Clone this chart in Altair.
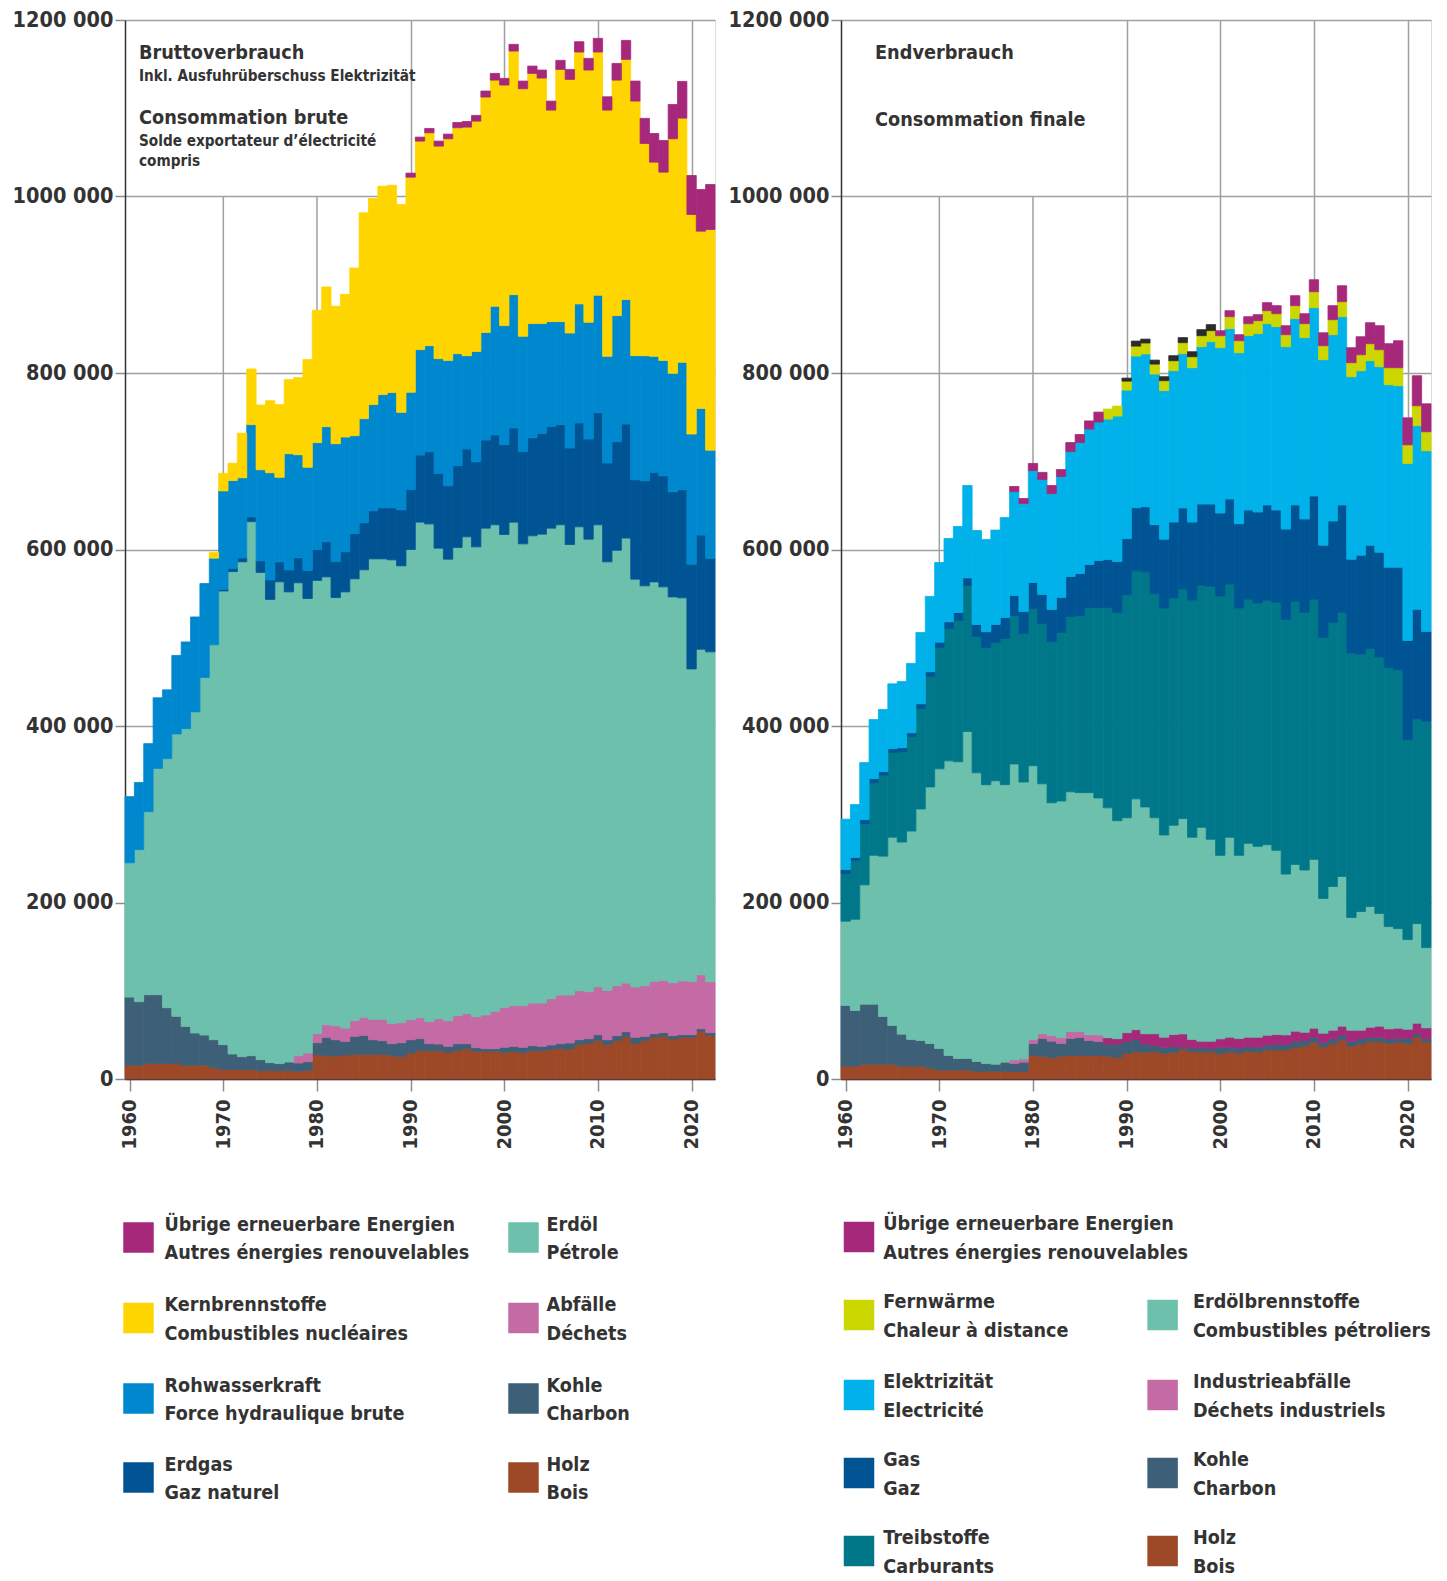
import altair as alt
import pandas as pd

YEARS = list(range(1960, 2023))

# ---------------- Bruttoverbrauch (values in 1000 TJ) ----------------
L_HOLZ = [15.5, 15.5, 17.4, 17.4, 17.4, 17.4, 15.5, 15.5, 15.5, 12.8,
          10.6, 10.6, 10.6, 10.6, 9.4, 9.4, 9.4, 9.4, 8.7, 9.8,
          27.5, 26.8, 26.0, 27.2, 28.0, 28.0, 28.0, 28.0, 26.8, 25.3,
          29.4, 32.0, 32.0, 32.0, 30.2, 32.5, 34.3, 31.3, 31.3, 31.3,
          30.2, 31.3, 29.8, 32.0, 32.0, 33.6, 34.3, 34.0, 38.9, 40.8,
          43.8, 38.9, 43.4, 47.9, 40.8, 43.4, 47.6, 48.3, 45.3, 47.2,
          47.2, 54.0, 49.4]
L_KOHLE = [77.3, 72.1, 78.1, 78.1, 63.4, 53.6, 44.1, 36.6, 34.3, 31.7,
           28.3, 17.7, 14.7, 15.8, 12.5, 9.1, 8.0, 9.8, 9.4, 9.8,
           13.6, 20.4, 18.5, 15.4, 20.3, 21.4, 16.5, 15.4, 13.2, 15.8,
           15.1, 13.7, 8.0, 7.6, 6.8, 7.5, 5.7, 4.2, 3.0, 3.0,
           5.7, 5.7, 6.1, 5.7, 5.0, 4.9, 5.7, 6.8, 5.6, 4.9,
           6.4, 5.6, 5.7, 5.7, 6.4, 4.9, 3.7, 4.2, 3.8, 3.0,
           3.0, 3.0, 3.1]
L_ABFAELLE = [0] * 18 + [8.3, 9.8,
              10.2, 14.3, 15.9, 15.1, 17.7, 20.4, 23.1, 24.2, 23.0, 22.7,
              22.7, 23.7, 24.9, 28.7, 29.0, 31.7, 34.0, 35.1, 38.2, 42.3,
              45.2, 46.0, 47.1, 48.3, 49.0, 52.5, 55.1, 54.3, 55.5, 53.2,
              54.3, 55.9, 56.6, 55.1, 57.0, 57.4, 59.3, 59.2, 59.9, 61.1,
              60.4, 61.1, 57.7]
L_ERDOEL = [152.2, 172.4, 207.5, 256.5, 282.2, 320.0, 337.4, 363.9, 405.2, 447.5,
            514.1, 546.7, 560.7, 605.1, 552.1, 524.9, 546.0, 532.8, 535.9, 515.1,
            513.7, 507.5, 485.2, 494.3, 500.8, 507.2, 521.8, 521.8, 525.3, 517.7,
            532.8, 561.6, 564.1, 533.2, 523.0, 530.6, 540.4, 532.4, 551.7, 551.4,
            535.9, 548.0, 523.4, 529.5, 531.4, 533.2, 532.9, 510.6, 525.7, 512.8,
            523.5, 485.6, 493.5, 504.2, 462.2, 453.1, 452.7, 446.0, 437.3, 433.9,
            354.1, 368.9, 373.8]
L_ERDGAS = [0] * 10 + [
            1.8, 3.7, 4.5, 5.5, 13.0, 22.1, 22.5, 24.9, 28.3, 31.8,
            34.8, 39.8, 40.9, 45.4, 51.1, 53.3, 54.5, 57.9, 59.0, 63.5,
            68.0, 76.0, 81.8, 84.7, 83.2, 92.6, 99.4, 96.4, 99.8, 101.7,
            101.7, 106.6, 104.7, 111.1, 114.1, 115.3, 113.4, 109.2, 117.6, 113.4,
            127.0, 111.9, 122.9, 129.2, 112.6, 119.1, 124.0, 125.8, 119.1, 122.5,
            118.7, 129.3, 106.2]
L_WASSER = [75.0, 76.0, 77.0, 80.0, 78.0, 89.0, 98.3, 107.6, 106.4, 98.2,
            111.6, 99.5, 90.8, 104.5, 103.4, 121.5, 95.9, 131.6, 116.8, 116.8,
            121.3, 130.4, 133.4, 130.0, 111.1, 118.0, 120.3, 128.2, 130.5, 110.4,
            110.2, 119.5, 120.2, 130.1, 142.1, 127.0, 105.8, 125.1, 122.0, 145.9,
            135.0, 151.2, 130.5, 129.4, 124.5, 118.7, 116.8, 130.4, 135.0, 132.4,
            133.1, 121.0, 142.9, 141.1, 140.6, 141.7, 131.6, 130.8, 134.2, 144.4,
            147.4, 143.6, 122.4]
L_KERN = [0] * 9 + [6.6,
          20.0, 19.6, 50.5, 63.0, 73.3, 81.6, 82.4, 84.0, 87.4, 122.1,
          150.0, 158.3, 155.7, 161.7, 190.0, 233.2, 233.5, 236.2, 235.0, 235.5,
          243.7, 236.3, 241.2, 240.8, 251.1, 256.0, 259.0, 260.9, 266.7, 256.3,
          272.6, 276.0, 280.5, 283.5, 278.2, 239.7, 285.8, 287.4, 285.4, 285.8,
          275.6, 279.0, 266.9, 272.2, 288.5, 240.5, 220.0, 213.3, 265.8, 276.7,
          248.8, 200.8, 250.0]
L_UEBRIGE = [0] * 30 + [
             4.6, 4.5, 4.9, 5.7, 5.3, 6.0, 6.4, 6.5, 6.8, 7.6,
             7.5, 7.6, 8.7, 8.3, 9.1, 10.2, 10.3, 11.3, 11.7, 13.2,
             15.5, 15.1, 18.9, 21.5, 22.7, 28.4, 32.5, 35.9, 38.9, 41.6,
             44.2, 47.2, 51.0]

# ---------------- Endverbrauch (values in 1000 TJ) ----------------
R_HOLZ = [14.5, 14.5, 16.8, 16.8, 16.8, 16.8, 14.5, 14.5, 14.5, 12.3,
          10.1, 10.1, 10.1, 10.1, 8.6, 8.6, 8.6, 8.6, 8.6, 8.6,
          26.6, 25.9, 24.4, 25.9, 26.6, 26.6, 26.6, 26.6, 25.9, 24.4,
          28.9, 31.1, 30.4, 31.1, 29.2, 30.3, 33.7, 31.1, 30.7, 30.7,
          28.8, 30.7, 29.5, 31.4, 30.7, 33.0, 33.0, 33.0, 35.6, 37.5,
          41.7, 36.4, 39.8, 44.3, 37.5, 39.8, 42.4, 42.4, 40.5, 41.7,
          40.5, 47.4, 42.0]
R_KOHLE = [68.8, 63.1, 68.0, 68.0, 54.0, 43.8, 36.3, 30.3, 29.1, 28.0,
           24.5, 16.5, 13.1, 13.1, 11.2, 8.9, 8.2, 10.5, 8.9, 10.5,
           13.7, 20.1, 18.5, 14.4, 19.4, 20.5, 17.0, 15.9, 13.6, 15.1,
           13.6, 13.7, 9.1, 6.9, 6.8, 6.4, 2.3, 4.1, 4.5, 3.8,
           7.2, 5.3, 5.7, 5.3, 5.3, 5.3, 6.0, 6.0, 7.2, 6.1,
           5.7, 5.3, 5.7, 5.3, 5.3, 5.7, 5.0, 5.0, 5.0, 4.5,
           5.7, 3.7, 3.5]
R_INDUSTRIE_A = [0] * 18 + [4.1, 3.6,
                 4.6, 5.3, 6.1, 6.5, 7.9, 6.8, 6.5, 7.6] + [0] * 35
R_INDUSTRIE_B = [0] * 28 + [7.3, 6.2,
                 10.0, 11.1, 11.8, 13.3, 11.4, 13.7, 15.1, 9.5, 7.6, 8.3,
                 9.5, 11.4, 10.6, 10.7, 11.4, 11.3, 11.4, 11.0, 11.4, 9.4,
                 10.2, 10.2, 9.8, 10.3, 12.5, 9.8, 11.3, 12.5, 11.3, 11.4,
                 10.2, 12.2, 12.5]
R_ERDOELBR = [95.5, 103.4, 135.2, 168.7, 181.7, 213.4, 217.7, 236.2, 262.4, 290.7,
              316.9, 333.9, 336.3, 370.6, 327.2, 316.0, 321.2, 314.4, 335.4, 313.8,
              310.1, 283.2, 264.0, 268.2, 271.6, 270.6, 274.4, 268.4, 260.5, 247.0,
              243.5, 261.6, 257.0, 244.7, 229.1, 237.1, 244.0, 229.2, 242.4, 228.8,
              207.9, 226.5, 207.6, 219.6, 216.2, 215.9, 208.7, 182.2, 189.0, 183.8,
              191.3, 152.7, 162.9, 169.7, 127.7, 134.5, 136.8, 127.6, 115.9, 112.9,
              101.6, 112.8, 90.9]
R_TREIB = [54.0, 66.6, 69.5, 82.4, 91.7, 95.9, 102.5, 107.0, 113.8, 125.2,
           137.5, 150.0, 160.1, 165.5, 154.5, 155.5, 156.6, 165.7, 168.2, 168.3,
           178.2, 181.7, 182.8, 191.0, 198.6, 200.7, 209.8, 215.8, 227.0, 236.0,
           252.7, 258.5, 266.4, 253.8, 257.2, 257.6, 260.2, 268.9, 274.3, 286.7,
           293.9, 286.7, 280.3, 276.6, 275.8, 276.9, 281.0, 288.6, 298.1, 292.0,
           294.7, 295.8, 299.2, 299.2, 299.6, 291.6, 292.4, 290.5, 293.6, 293.5,
           226.8, 232.2, 256.4]
R_GAS = [4.5, 3.4, 4.4, 4.5, 4.1, 4.4, 4.4, 4.3, 5.3, 5.3,
         6.0, 7.6, 9.1, 8.6, 13.6, 17.8, 20.5, 23.8, 22.7, 24.9,
         29.4, 32.9, 36.2, 39.7, 45.3, 47.6, 48.7, 53.2, 54.3, 57.7,
         63.6, 71.4, 73.8, 78.3, 78.0, 86.0, 91.7, 88.3, 92.0, 93.2,
         94.0, 96.6, 95.5, 101.1, 103.0, 108.0, 104.6, 102.3, 109.1, 105.7,
         117.0, 104.5, 114.8, 121.6, 106.4, 112.2, 117.0, 119.0, 113.6, 115.9,
         112.2, 123.9, 101.9]
R_ELEKTR = [57.1, 60.0, 64.7, 66.9, 70.4, 73.5, 75.1, 78.6, 80.8, 85.3,
            90.3, 94.4, 97.4, 104.6, 106.5, 104.6, 106.9, 113.2, 117.8, 122.4,
            126.9, 130.2, 131.4, 137.0, 141.6, 148.4, 153.5, 156.9, 159.2, 164.8,
            168.3, 171.8, 173.0, 170.7, 168.3, 171.5, 174.9, 174.9, 178.3, 184.0,
            187.4, 193.0, 193.8, 197.6, 202.2, 205.5, 207.8, 206.7, 211.2, 205.6,
            213.4, 210.2, 211.2, 213.4, 206.8, 209.0, 209.0, 210.1, 206.8, 205.7,
            200.5, 208.0, 204.7]
R_FERNW = [0] * 28 + [11.3, 11.3,
           10.2, 11.3, 12.5, 11.3, 11.3, 11.3, 12.5, 12.4, 12.5, 12.5,
           13.6, 13.6, 13.6, 13.6, 14.7, 14.7, 14.7, 13.6, 14.7, 15.8,
           18.1, 15.8, 17.0, 17.0, 15.9, 18.1, 19.3, 19.3, 19.3, 20.4,
           21.1, 22.7, 21.5]
R_UEBRIGE = [0] * 18 + [5.7, 5.7,
             8.0, 8.1, 9.1, 7.9, 10.2, 9.1, 9.2, 11.3] + [0] * 12 + [
             5.6, 6.8, 6.8, 7.9, 6.8, 9.1, 9.1, 10.2, 11.3, 11.3,
             13.6, 14.7, 15.9, 18.1, 17.0, 20.4, 23.8, 27.2, 27.2, 30.6,
             30.6, 34.0, 31.7]
R_DUNKEL = [0] * 30 + [3.4, 5.7, 4.4, 4.5, 4.5, 5.7, 5.7, 5.7, 6.8, 6.8] + [0] * 23

# ---------------- colours ----------------
C_UEB = "#a6287a"
C_KERN = "#ffd500"
C_WAS = "#0088cf"
C_GAS = "#005493"
C_OEL = "#6cc0ac"
C_ABF = "#c46aa4"
C_KOH = "#3d5f77"
C_HOLZ = "#9d4928"
C_FERN = "#ccd600"
C_ELE = "#00b2e9"
C_TREIB = "#00788a"
C_DUNKEL = "#2b2b2b"

TXT = "#333333"
GRID = "#a0a0a0"
FONT = "DejaVu Sans Condensed"

LEFT_SERIES = [
    ("Holz", C_HOLZ, L_HOLZ),
    ("Kohle", C_KOH, L_KOHLE),
    ("Abfälle", C_ABF, L_ABFAELLE),
    ("Erdöl", C_OEL, L_ERDOEL),
    ("Erdgas", C_GAS, L_ERDGAS),
    ("Rohwasserkraft", C_WAS, L_WASSER),
    ("Kernbrennstoffe", C_KERN, L_KERN),
    ("Übrige erneuerbare Energien", C_UEB, L_UEBRIGE),
]
RIGHT_SERIES = [
    ("Holz", C_HOLZ, R_HOLZ),
    ("Kohle", C_KOH, R_KOHLE),
    ("Industrieabfälle", C_ABF, R_INDUSTRIE_A),
    ("Industrieabfälle (ab 1988)", C_UEB, R_INDUSTRIE_B),
    ("Erdölbrennstoffe", C_OEL, R_ERDOELBR),
    ("Treibstoffe", C_TREIB, R_TREIB),
    ("Gas", C_GAS, R_GAS),
    ("Elektrizität", C_ELE, R_ELEKTR),
    ("Fernwärme", C_FERN, R_FERNW),
    ("Übrige erneuerbare Energien", C_UEB, R_UEBRIGE),
    ("Übrige (dunkel)", C_DUNKEL, R_DUNKEL),
]

LEFT_LEGEND = [
    [("Übrige erneuerbare Energien", "Autres énergies renouvelables", C_UEB),
     ("Kernbrennstoffe", "Combustibles nucléaires", C_KERN),
     ("Rohwasserkraft", "Force hydraulique brute", C_WAS),
     ("Erdgas", "Gaz naturel", C_GAS)],
    [("Erdöl", "Pétrole", C_OEL),
     ("Abfälle", "Déchets", C_ABF),
     ("Kohle", "Charbon", C_KOH),
     ("Holz", "Bois", C_HOLZ)],
]
RIGHT_LEGEND = [
    [("Übrige erneuerbare Energien", "Autres énergies renouvelables", C_UEB),
     ("Fernwärme", "Chaleur à distance", C_FERN),
     ("Elektrizität", "Electricité", C_ELE),
     ("Gas", "Gaz", C_GAS),
     ("Treibstoffe", "Carburants", C_TREIB)],
    [None,
     ("Erdölbrennstoffe", "Combustibles pétroliers", C_OEL),
     ("Industrieabfälle", "Déchets industriels", C_ABF),
     ("Kohle", "Charbon", C_KOH),
     ("Holz", "Bois", C_HOLZ)],
]

BIG = 19.7
SMALL = 15.2
LEFT_TITLES = [("Bruttoverbrauch", BIG, 38.5), ("Inkl. Ausfuhrüberschuss Elektrizität", SMALL, 61),
               ("Consommation brute", BIG, 104), ("Solde exportateur d’électricité", SMALL, 126),
               ("compris", SMALL, 146)]
RIGHT_TITLES = [("Endverbrauch", BIG, 38.5), ("Consommation finale", BIG, 105.5)]

GRID_SHORT = [1970, 1980]                 # decade lines ending at 1 000 000

W = 590
H = 1059
LEG_SIZE = 19.6
AXIS_EXT = 116


def long_df(series):
    rows = []
    for order, (name, color, vals) in enumerate(series):
        for yr, v in zip(YEARS, vals):
            if v > 0:
                rows.append({"year": yr, "series": name, "order": order,
                             "value": v * 1000, "color": color})
    return pd.DataFrame(rows)


def text_layer(txt, x, y, size, baseline="alphabetic"):
    return alt.Chart(pd.DataFrame({"t": [txt]})).mark_text(
        align="left", baseline=baseline, font=FONT, fontSize=size,
        fontWeight="bold", color=TXT
    ).encode(text="t:N", x=alt.value(x), y=alt.value(y))


def panel(series, titles, title_x, legend, sw_x, tx_x, rows_y):
    xscale = alt.Scale(domain=[1959.5, 2022.5], nice=False, zero=False)
    yscale = alt.Scale(domain=[0, 1200000], nice=False)

    df = long_df(series)
    base = alt.Chart(df).transform_stack(
        stack="value", groupby=["year"], as_=["v0", "v1"],
        sort=[alt.SortField("order", order="ascending")]
    ).transform_calculate(x0="datum.year - 0.5", x1="datum.year + 0.5")

    bars = base.mark_rect(strokeWidth=0.8).encode(
        x=alt.X("x0:Q", scale=xscale,
                axis=alt.Axis(values=list(range(1960, 2021, 10)), format="d",
                              labelAngle=-90, labelFontSize=20, labelFont=FONT,
                              labelFontWeight="bold", labelColor=TXT,
                              labelFlush=False, labelOverlap=False,
                              tickSize=12, tickColor="#8c8c8c", tickWidth=1.5,
                              labelPadding=8, domainColor="#333333", domainWidth=1.5,
                              grid=True, gridColor=GRID, gridWidth=1.5,
                              gridOpacity={"condition": {"test": "datum.value >= 1990", "value": 1}, "value": 0},
                              title=None)),
        x2="x1:Q",
        y=alt.Y("v0:Q", scale=yscale,
                axis=alt.Axis(values=list(range(0, 1200001, 200000)),
                              labelExpr="datum.value == 0 ? '0' : format(datum.value / 1000, 'd') + ' 000'",
                              labelFontSize=21.5, labelFont=FONT, labelFontWeight="bold",
                              labelColor=TXT, labelPadding=2, labelOverlap=False,
                              tickSize=10, tickColor="#8c8c8c", tickWidth=1.5,
                              domainColor="#333333", domainWidth=1.5,
                              grid=True, gridColor=GRID, gridWidth=1.5,
                              minExtent=AXIS_EXT, maxExtent=AXIS_EXT, title=None)),
        y2="v1:Q",
        color=alt.Color("color:N", scale=None),
        stroke=alt.Stroke("color:N", scale=None),
    )

    short_grid = alt.Chart(pd.DataFrame({"g": GRID_SHORT})).mark_rule(
        color=GRID, strokeWidth=1.5
    ).encode(x=alt.X("g:Q", scale=xscale), y=alt.datum(0, scale=yscale), y2=alt.datum(1000000))

    layers = [short_grid, bars]
    for txt, size, y in titles:
        layers.append(text_layer(txt, title_x, y, size))

    for ci, col in enumerate(legend):
        for ri, item in enumerate(col):
            if item is None:
                continue
            de, fr, color = item
            cy = rows_y[ri]
            sw = alt.Chart(pd.DataFrame({"t": [de]})).mark_square(
                size=930, color=color, opacity=1, filled=True, strokeWidth=0
            ).encode(x=alt.value(sw_x[ci]), y=alt.value(cy))
            layers.append(sw)
            layers.append(text_layer(de, tx_x[ci], cy - 13, LEG_SIZE, baseline="middle"))
            layers.append(text_layer(fr, tx_x[ci], cy + 15.5, LEG_SIZE, baseline="middle"))

    return alt.layer(*layers).properties(width=W, height=H)


left = panel(LEFT_SERIES, LEFT_TITLES, 14, LEFT_LEGEND,
             sw_x=[13.5, 398.5], tx_x=[39.5, 421.5], rows_y=[1217.5, 1298, 1378.5, 1457.5])
right = panel(RIGHT_SERIES, RIGHT_TITLES, 34, RIGHT_LEGEND,
              sw_x=[18, 321.6], tx_x=[42.3, 351.9], rows_y=[1217, 1295, 1375, 1453, 1531])

chart = alt.hconcat(left, right, spacing=8).properties(
    padding={"left": 0, "top": 0, "right": 0, "bottom": 0}
).configure_view(stroke="#555555", strokeWidth=1.5).configure(font=FONT)

chart.save("out.html", embed_options={"renderer": "svg", "actions": False})
